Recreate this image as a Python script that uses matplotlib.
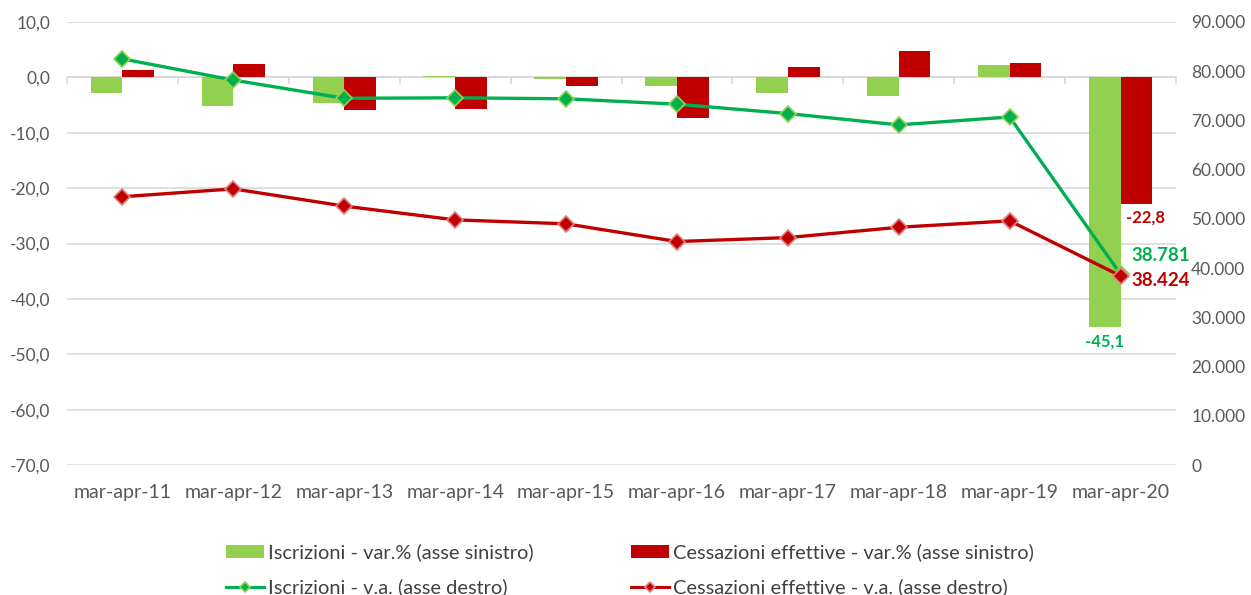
import numpy as np
import matplotlib
matplotlib.use('Agg')
import matplotlib.pyplot as plt
from matplotlib.ticker import FuncFormatter

plt.rcParams['font.family'] = ['Lato', 'DejaVu Sans']

# dati
categorie = ['mar-apr-11', 'mar-apr-12', 'mar-apr-13', 'mar-apr-14', 'mar-apr-15',
             'mar-apr-16', 'mar-apr-17', 'mar-apr-18', 'mar-apr-19', 'mar-apr-20']
iscr_var = [-2.9, -5.2, -4.7, 0.3, -0.3, -1.5, -2.8, -3.4, 2.3, -45.1]
cess_var = [1.4, 2.5, -5.9, -5.8, -1.6, -7.4, 1.8, 4.8, 2.6, -22.8]
iscr_va = [82500, 78200, 74500, 74600, 74400, 73300, 71400, 69100, 70700, 38781]
cess_va = [54500, 56100, 52600, 49800, 49000, 45400, 46200, 48300, 49600, 38424]

verde_bar = '#92d050'
verde_lin = '#00b050'
rosso = '#c00000'
grigio = '#595959'
griglia = '#d9d9d9'

fig = plt.figure(figsize=(12.51, 5.95), dpi=100)
ax = fig.add_axes([67 / 1251, 1 - 465 / 595, 1109 / 1251, 443 / 595])
ax2 = ax.twinx()

x = np.arange(len(categorie))
w = 1 / 3.5

b1 = ax.bar(x - w / 2, iscr_var, w, color=verde_bar, label='Iscrizioni - var.% (asse sinistro)')
b2 = ax.bar(x + w / 2, cess_var, w, color=rosso, label='Cessazioni effettive - var.% (asse sinistro)')

l1, = ax2.plot(x, iscr_va, color=verde_lin, lw=2.4, marker='D', markersize=8,
               markerfacecolor=verde_lin, markeredgecolor=verde_bar, markeredgewidth=1.2,
               label='Iscrizioni - v.a. (asse destro)')
l2, = ax2.plot(x, cess_va, color=rosso, lw=2.4, marker='D', markersize=8,
               markerfacecolor=rosso, markeredgecolor='#e08080', markeredgewidth=1.2,
               label='Cessazioni effettive - v.a. (asse destro)')

# assi
ax.set_xlim(-0.5, len(categorie) - 0.5)
ax.set_ylim(-70, 10)
ax.set_yticks(np.arange(-70, 11, 10))
ax.yaxis.set_major_formatter(FuncFormatter(lambda v, p: f'{v:.1f}'.replace('.', ',')))
ax2.set_ylim(0, 90000)
ax2.set_yticks(np.arange(0, 90001, 10000))
ax2.yaxis.set_major_formatter(FuncFormatter(lambda v, p: f'{v:,.0f}'.replace(',', '.')))

ax.set_xticks(x)
ax.set_xticklabels(categorie)
ax.tick_params(axis='x', length=0, pad=14, labelsize=14, labelcolor=grigio)
ax.tick_params(axis='y', length=0, pad=12, labelsize=12.5, labelcolor=grigio)
ax2.tick_params(axis='y', length=0, pad=11, labelsize=12.5, labelcolor=grigio)

for a in (ax, ax2):
    for s in a.spines.values():
        s.set_visible(False)

ax.set_axisbelow(True)
ax.yaxis.grid(True, color=griglia, lw=1.2)

# asse orizzontale sullo zero con tacche tra le categorie
sec = ax.secondary_xaxis(70 / 80)
sec.set_alignment('bottom')
sec.set_xticks(np.arange(-0.5, len(categorie), 1))
sec.set_xticklabels([])
sec.tick_params(length=5, color=griglia, width=1.2, direction='out')
for s in sec.spines.values():
    s.set_color(griglia)
    s.set_linewidth(1.2)
sec.spines['top'].set_visible(False)
sec.set_zorder(0.6)

# etichette dati
ax.text(x[-1] - w / 2, iscr_var[-1] - 1.2, '-45,1', color=verde_lin, fontsize=12,
        fontweight='bold', ha='center', va='top')
ax.text(x[-1] + w / 2 + 0.08, cess_var[-1] - 1.0, '-22,8', color=rosso, fontsize=12,
        fontweight='bold', ha='center', va='top')
ax2.text(x[-1] + 0.1, iscr_va[-1] + 3800, '38.781', color=verde_lin, fontsize=13.5,
         fontweight='bold', ha='left', va='center')
ax2.text(x[-1] + 0.1, cess_va[-1] - 1000, '38.424', color=rosso, fontsize=13.5,
         fontweight='bold', ha='left', va='center')

handles = [b1, l1, b2, l2]
leg = fig.legend(handles, [h.get_label() for h in handles], loc='center',
                 bbox_to_anchor=(630 / 1251, 1 - 570 / 595), ncol=2, frameon=False,
                 fontsize=14.4, labelcolor='#404040', handlelength=1.9, handletextpad=0.2,
                 handleheight=0.6, labelspacing=0.85, columnspacing=4.9)
for h in leg.legend_handles:
    if hasattr(h, 'set_markersize'):
        h.set_markersize(5)
        h.set_linewidth(2.2)

fig.savefig('out.png', dpi=100)
